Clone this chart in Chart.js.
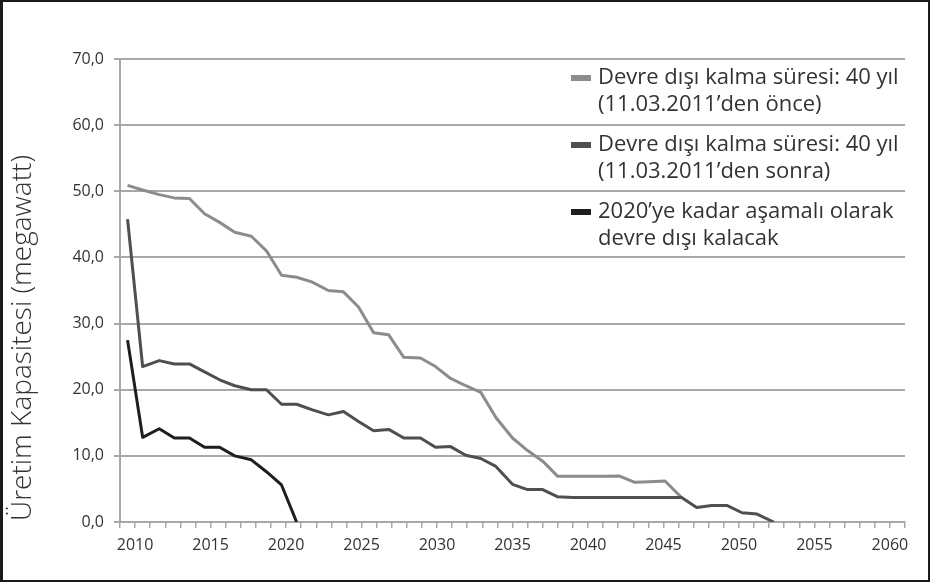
<!DOCTYPE html>
<html>
<head>
<meta charset="utf-8">
<script src="https://cdn.jsdelivr.net/npm/chart.js@4.4.0/dist/chart.umd.min.js"></script>
<style>
    html, body { margin: 0; padding: 0; background: #fff; }
    #frame { box-sizing: border-box; width: 930px; height: 582px; border: 2px solid #1a1a1a; border-left-width: 3px; }
    #chart { display: block; }
</style>
</head>
<body>
<div id="frame"><canvas id="chart" width="925" height="578"></canvas></div>
<script>
// ===============================
// DATA
// ===============================
// where each yearly value sits on the time axis
const pointYears = [2009.5, 2010.5, 2011.6, 2012.6, 2013.6, 2014.6, 2015.6, 2016.6, 2017.7, 2018.7,
                    2019.7, 2020.7, 2021.7, 2022.8, 2023.8, 2024.8, 2025.8, 2026.8, 2027.8, 2028.9,
                    2029.9, 2030.9, 2031.9, 2032.9, 2033.9, 2035.0, 2036.0, 2037.0, 2038.0, 2039.0,
                    2040.0, 2041.1, 2042.1, 2043.1, 2044.1, 2045.1, 2046.2, 2047.2, 2048.2, 2049.2,
                    2050.2, 2051.2, 2052.3];

// 40 yıl, 11.03.2011'den önce
const before2011 = [50.9, 50.2, 49.5, 49.0, 48.9, 46.6, 45.3, 43.8, 43.2, 41.0,
                    37.3, 37.0, 36.3, 35.0, 34.8, 32.5, 28.6, 28.3, 24.9, 24.8,
                    23.5, 21.7, 20.6, 19.6, 15.8, 12.7, 10.8, 9.2, 6.9, 6.9,
                    6.9, 6.9, 6.95, 6.0, 6.1, 6.2, 3.7];

// 40 yıl, 11.03.2011'den sonra
const after2011 = [45.8, 23.5, 24.4, 23.9, 23.9, 22.7, 21.5, 20.6, 20.0, 20.0,
                   17.8, 17.8, 17.0, 16.2, 16.7, 15.2, 13.8, 14.0, 12.7, 12.7,
                   11.3, 11.4, 10.1, 9.6, 8.4, 5.7, 4.9, 4.9, 3.8, 3.7,
                   3.7, 3.7, 3.7, 3.7, 3.7, 3.7, 3.7, 2.2, 2.5, 2.5,
                   1.4, 1.2, 0.0];

// 2020'ye kadar
const phaseOut2020 = [27.5, 12.8, 14.1, 12.7, 12.7, 11.3, 11.3, 10.0, 9.4, 7.6,
                      5.6, 0.0];

const seriesLabels = [
    ["Devre dışı kalma süresi: 40 yıl", "(11.03.2011’den önce)"],
    ["Devre dışı kalma süresi: 40 yıl", "(11.03.2011’den sonra)"],
    ["2020’ye kadar aşamalı olarak", "devre dışı kalacak"]
];
const seriesColors = ["#8c8c8c", "#4f4f4f", "#1e1e1e"];

const yTitle = "Üretim Kapasitesi (megawatt)";
const xMin = 2009, xMax = 2061;
const yMin = 0, yMax = 70, yStep = 10;

function toPoints(values) {
    return values.map((v, i) => ({ x: pointYears[i], y: v }));
}

const FONT = '"Open Sans", "Noto Sans", sans-serif';
const TEXT = "#333";
const GRID = "#a8a8a8";

// Legend drawn inside the plot, top right
const insideLegend = {
    id: 'insideLegend',
    afterDatasetsDraw(chart) {
        const ctx = chart.ctx;
        ctx.save();
        ctx.font = '22px ' + FONT;
        ctx.textBaseline = 'middle';
        chart.data.datasets.forEach((ds, i) => {
            const y0 = 76 + i * 67;
            ctx.fillStyle = ds.borderColor;
            ctx.fillRect(568, y0 - 3, 20, 6);
            ctx.fillStyle = TEXT;
            seriesLabels[i].forEach((line, j) => ctx.fillText(line, 595, y0 + j * 26.5));
        });
        ctx.restore();
    }
};

// Y axis title, a bit below the axis middle like in the original
const sideTitle = {
    id: 'sideTitle',
    afterDraw(chart) {
        const ctx = chart.ctx;
        ctx.save();
        ctx.translate(20, 336);
        ctx.rotate(-Math.PI / 2);
        ctx.font = '300 28px ' + FONT;
        ctx.fillStyle = TEXT;
        ctx.textAlign = 'center';
        ctx.textBaseline = 'middle';
        ctx.fillText(yTitle, 0, 0);
        ctx.restore();
    }
};

const ctx = document.getElementById('chart').getContext('2d');
new Chart(ctx, {
    type: 'line',
    data: {
        datasets: [before2011, after2011, phaseOut2020].map((vals, i) => ({
            label: seriesLabels[i].join(' '),
            data: toPoints(vals),
            borderColor: seriesColors[i],
            backgroundColor: seriesColors[i],
            borderWidth: 3,
            pointRadius: 0,
            tension: 0,
            fill: false,
            borderJoinStyle: 'round',
            order: i === 0 ? 1 : 0
        }))
    },
    options: {
        responsive: false,
        animation: false,
        layout: { padding: { top: 57, right: 23, left: 0, bottom: 0 } },
        plugins: {
            legend: { display: false },
            tooltip: { enabled: false }
        },
        scales: {
            x: {
                type: 'linear',
                min: xMin,
                max: xMax,
                ticks: {
                    stepSize: 1,
                    autoSkip: false,
                    maxRotation: 0,
                    padding: 8,
                    color: TEXT,
                    font: { family: FONT, size: 16 },
                    callback: v => (v % 5 === 0 ? String(v) : '')
                },
                grid: { drawOnChartArea: false, color: GRID, lineWidth: 1.5, tickLength: 6 },
                border: { color: GRID, width: 2 },
                afterFit: s => { s.height = 58; }
            },
            y: {
                min: yMin,
                max: yMax,
                ticks: {
                    stepSize: yStep,
                    padding: 10,
                    color: TEXT,
                    font: { family: FONT, size: 16 },
                    callback: v => v.toFixed(1).replace('.', ',')
                },
                grid: { color: GRID, lineWidth: 2, tickLength: 6 },
                border: { color: GRID, width: 2 },
                afterFit: s => { s.width = 117; }
            }
        }
    },
    plugins: [insideLegend, sideTitle]
});
</script>
</body>
</html>
